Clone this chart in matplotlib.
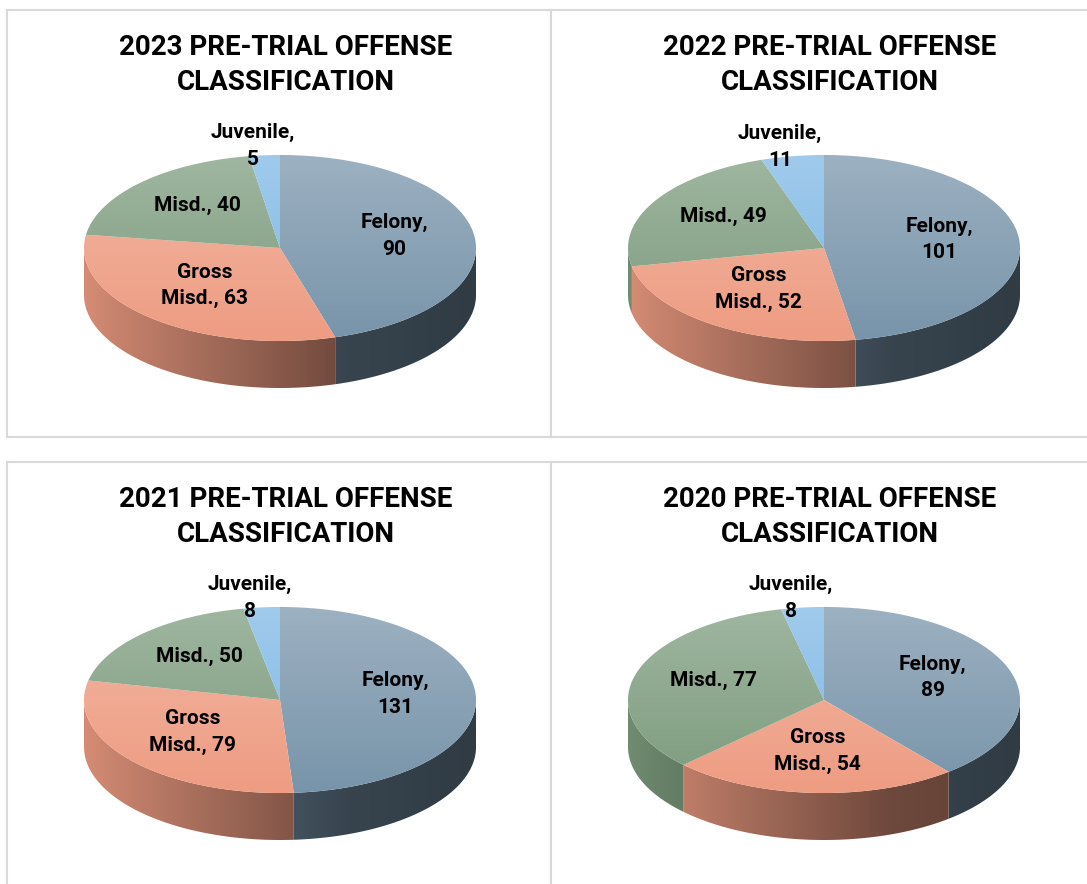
import numpy as np
import matplotlib.pyplot as plt
from matplotlib.patches import Polygon
from matplotlib.colors import to_rgb

# data
years = ["2023", "2022", "2021", "2020"]
categories = ["Felony", "Gross Misd.", "Misd.", "Juvenile"]
counts_2023 = [90, 63, 40, 5]
counts_2022 = [101, 52, 49, 11]
counts_2021 = [131, 79, 50, 8]
counts_2020 = [89, 54, 77, 8]
label_fmt = ["Felony,\n{}", "Gross\nMisd., {}", "Misd., {}", "Juvenile,\n{}"]
colors = ["#7894AA", "#EE9C82", "#7C9B7D", "#7DB7E5"]

all_counts = [counts_2023, counts_2022, counts_2021, counts_2020]

plt.rcParams['font.family'] = ['Roboto', 'DejaVu Sans']

W, H = 1087, 884
fig = plt.figure(figsize=(W / 100, H / 100), dpi=100)
fig.patch.set_facecolor('white')

panel_w, panel_h = 544, 427
panels = [(7, 10), (551, 10), (7, 462), (551, 462)]

# pie geometry inside a panel (pixels, y up)
cx, cy = 273, 189
rx, ry, depth = 196, 93, 47


def side_shade(xn):
    # lit from the left, darker to the right
    return np.interp(xn, [-1, -0.85, 0.35, 1], [0.9, 0.84, 0.46, 0.40])


def arc(a_from, a_to, n=300):
    t = np.radians(np.linspace(a_from, a_to, n))
    return cx + rx * np.cos(t), cy + ry * np.sin(t)


def draw_pie(ax, counts):
    vals = np.array(counts, dtype=float)
    frac = vals / vals.sum()
    edges = 90 - np.concatenate([[0], np.cumsum(frac)]) * 360

    # side wall (front half only), horizontal shading
    xs = np.linspace(cx - rx, cx + rx, 400)
    for i in range(len(vals)):
        a1, a2 = edges[i], edges[i + 1]
        lo, hi = max(a2, -180), min(a1, 0)
        if hi <= lo:
            continue
        x, y = arc(hi, lo)
        pts = list(zip(x, y)) + list(zip(x[::-1], y[::-1] - depth))
        base = np.array(to_rgb(colors[i]))
        row = np.clip(base[None, :] * side_shade((xs - cx) / rx)[:, None], 0, 1)
        img = np.repeat(row[None, :, :], 2, axis=0)
        clip = Polygon(pts, closed=True, facecolor='none', edgecolor='none')
        ax.add_patch(clip)
        im = ax.imshow(img, extent=(cx - rx, cx + rx, cy - ry - depth - 2, cy + 2),
                       origin='upper', aspect='auto', interpolation='bilinear', zorder=1)
        im.set_clip_path(clip)

    # top face with vertical gradient
    for i in range(len(vals)):
        a1, a2 = edges[i], edges[i + 1]
        x, y = arc(a1, a2)
        pts = [(cx, cy)] + list(zip(x, y))
        base = np.array(to_rgb(colors[i]))
        light = base + (1 - base) * 0.27
        g = np.linspace(0, 1, 200)[:, None, None]
        img = light * (1 - g) + base * g
        im = ax.imshow(img, extent=(cx - rx, cx + rx, cy - ry, cy + ry),
                       origin='upper', aspect='auto', interpolation='bilinear', zorder=2)
        clip = Polygon(pts, closed=True, facecolor='none', edgecolor='none')
        ax.add_patch(clip)
        im.set_clip_path(clip)

    # data labels
    for i in range(len(vals)):
        mid = np.radians((edges[i] + edges[i + 1]) / 2)
        if frac[i] < 0.06:
            r, dx, dy = 1.08, -10, 2
        else:
            r, dx, dy = 0.59, 0, 4
        x = cx + rx * r * np.cos(mid) + dx
        y = cy + ry * r * np.sin(mid) + dy
        ax.text(x, y, label_fmt[i].format(counts[i]), ha='center', va='center',
                fontsize=15, fontweight='bold', color='black', linespacing=1.5, zorder=5)


for (px, py), year, counts in zip(panels, years, all_counts):
    ax = fig.add_axes([px / W, 1 - (py + panel_h) / H, panel_w / W, panel_h / H])
    draw_pie(ax, counts)
    ax.set_xlim(0, panel_w)
    ax.set_ylim(0, panel_h)
    ax.set_xticks([])
    ax.set_yticks([])
    for sp in ax.spines.values():
        sp.set_color('#D9D9D9')
        sp.set_linewidth(1.5)
    ax.text(279, 372, year + " PRE-TRIAL OFFENSE\nCLASSIFICATION", ha='center', va='center',
            fontsize=20, fontweight='bold', linespacing=1.35)

fig.savefig('out.png', dpi=100)
